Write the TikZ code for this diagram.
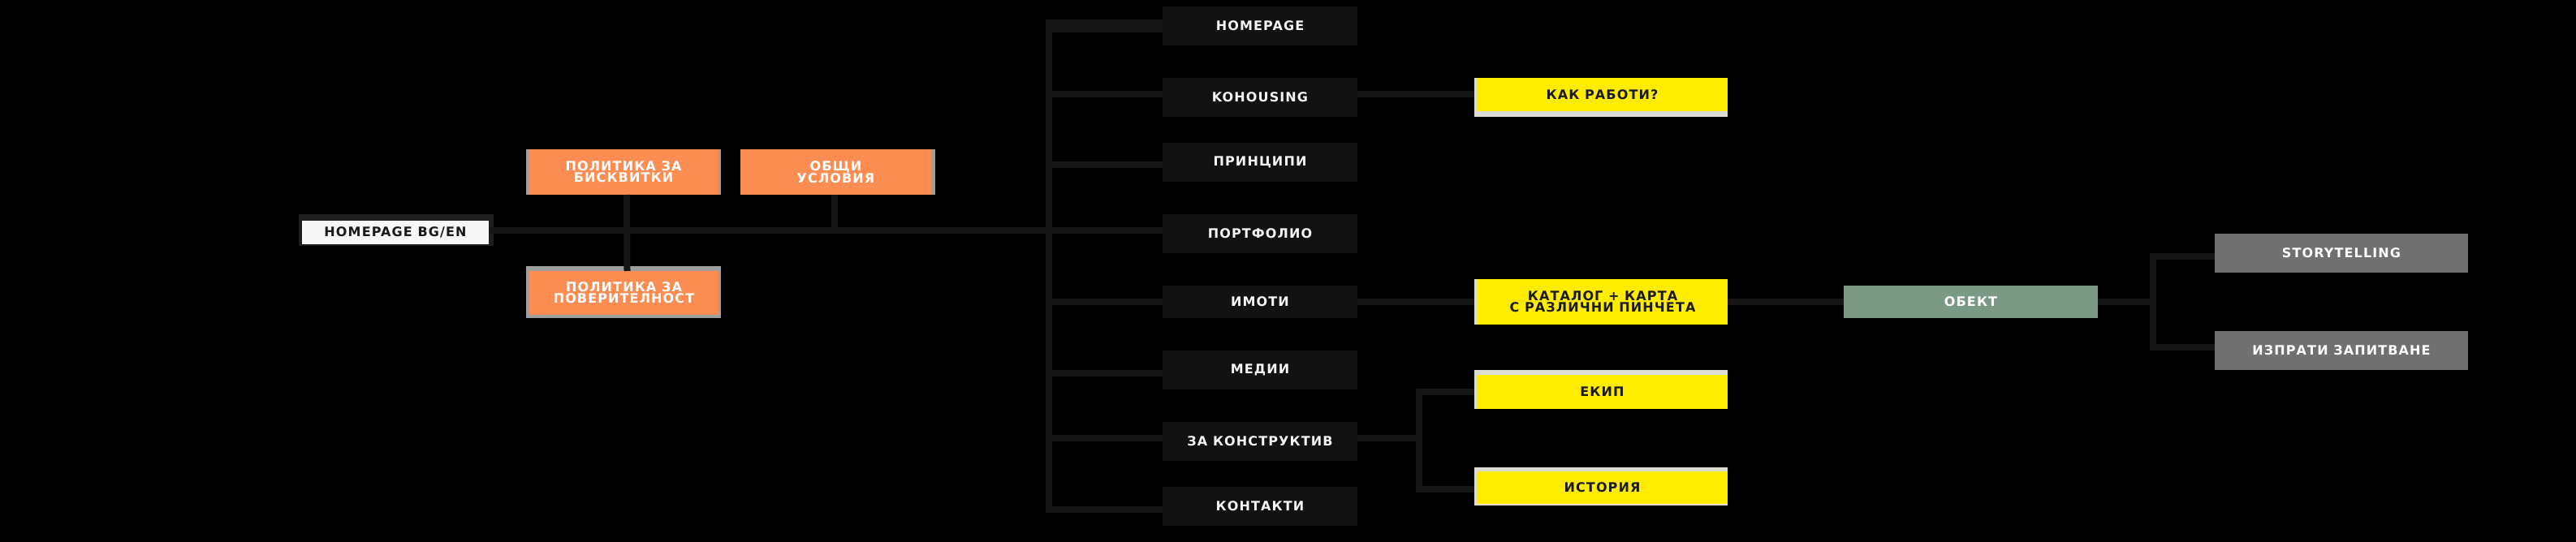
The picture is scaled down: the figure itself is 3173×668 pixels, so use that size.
\documentclass[tikz,border=0pt]{standalone}
\usepackage{fontspec}
\usetikzlibrary{calc}
\newfontfamily\lblfont{DejaVu Sans}[LetterSpace=7]
\definecolor{linec}{HTML}{161616}
\definecolor{boxdark}{HTML}{121212}
\definecolor{orangec}{HTML}{FC8D52}
\definecolor{orangeedge}{HTML}{9E9E9E}
\definecolor{yellowc}{HTML}{FFEC00}
\definecolor{yellowedge}{HTML}{DCDCD4}
\definecolor{greenc}{HTML}{7B9A86}
\definecolor{grayc}{HTML}{707070}
\definecolor{framec}{HTML}{1E1E1E}
\definecolor{whitebox}{HTML}{F7F7F7}
\definecolor{darktext}{HTML}{1A1A1A}
\definecolor{lighttext}{HTML}{F4F4F4}
\tikzset{
  lbl/.style={inner sep=0pt, outer sep=0pt, align=center,
    font=\lblfont\bfseries\fontsize{16}{14.3}\selectfont},
  darkbox/.style={lbl, fill=boxdark, text=lighttext, minimum width=240pt, minimum height=48pt},
  orangebox/.style={lbl, fill=orangec, text=white},
  yellowbox/.style={lbl, fill=yellowc, text=darktext},
  greenbox/.style={lbl, fill=greenc, text=white, minimum width=313pt, minimum height=40pt},
  graybox/.style={lbl, fill=grayc, text=white, minimum width=312pt, minimum height=48pt},
  whiteb/.style={lbl, fill=whitebox, text=darktext, minimum width=230pt, minimum height=29pt},
  conn/.style={draw=linec, line width=8pt},
}
\begin{document}
\begin{tikzpicture}[x=1pt, y=-1pt]
\useasboundingbox (0,0) rectangle (3173,668);
\fill[black] (0,0) rectangle (3173,668);

% edge / frame backgrounds
\fill[framec] (368,264) rectangle (608,303);
\fill[orangeedge] (648,184) rectangle (888,240);
\fill[orangeedge] (912,184) rectangle (1152,240);
\fill[orangeedge] (648,328) rectangle (888,392);
\fill[yellowedge] (1816,96) rectangle (2128,144);
\fill[yellowedge] (1816,344) rectangle (2128,400);
\fill[yellowedge] (1816,456) rectangle (2128,504);
\fill[yellowedge] (1816,576) rectangle (2128,623);

% nodes
\node[whiteb] (hpbg) at (487,286.5) {HOMEPAGE BG/EN};
\node[orangebox, minimum width=234pt, minimum height=56pt] (bisk) at (768,212) {ПОЛИТИКА ЗА\\БИСКВИТКИ};
\node[orangebox, minimum width=235pt, minimum height=56pt] (obshti) at (1029.5,212) {ОБЩИ\\УСЛОВИЯ};
\node[orangebox, minimum width=233pt, minimum height=54pt] (pov) at (768.5,361) {ПОЛИТИКА ЗА\\ПОВЕРИТЕЛНОСТ};

\node[darkbox] (hp) at (1552,32) {HOMEPAGE};
\node[darkbox] (kh) at (1552,120) {KOHOUSING};
\node[darkbox] (pr) at (1552,200) {ПРИНЦИПИ};
\node[darkbox] (pf) at (1552,288) {ПОРТФОЛИО};
\node[darkbox, minimum height=40pt] (im) at (1552,372) {ИМОТИ};
\node[darkbox] (md) at (1552,456) {МЕДИИ};
\node[darkbox] (zk) at (1552,544) {ЗА КОНСТРУКТИВ};
\node[darkbox] (kt) at (1552,624) {КОНТАКТИ};

\node[yellowbox, minimum width=309pt, minimum height=41.5pt] (kak) at (1973.5,116.75) {КАК РАБОТИ?};
\node[yellowbox, minimum width=308pt, minimum height=56pt] (kat) at (1974,372) {КАТАЛОГ + КАРТА\\С РАЗЛИЧНИ ПИНЧЕТА};
\node[yellowbox, minimum width=309pt, minimum height=42pt] (ekip) at (1973.5,483) {ЕКИП};
\node[yellowbox, minimum width=309pt, minimum height=40pt] (ist) at (1973.5,601) {ИСТОРИЯ};

\node[greenbox] (obekt) at (2427.5,372) {ОБЕКТ};
\node[graybox] (story) at (2884,312) {STORYTELLING};
\node[graybox] (izp) at (2884,432) {ИЗПРАТИ ЗАПИТВАНЕ};

% helper coordinates
\coordinate (mainy) at (0,284);
\coordinate (bustop) at (1292,24);
\coordinate (busbot) at (1292,632);
\coordinate (f1) at (1748,540);
\coordinate (f2) at (2652,372);

% connectors
\draw[conn] (hpbg.east |- mainy) -- (pf.west |- mainy);
\draw[conn] ($(bisk.south)+(4,0)$) -- ($(pov.north)+(4,0)$);
\draw[conn] ($(obshti.south)+(-1.5,0)$) -- ($(obshti.south |- mainy)+(-1.5,0)$);

\draw[conn] (bustop) -- (busbot);
\draw[conn, line width=16pt] ($(bustop |- hp.west)+(-4,0)$) -- (hp.west);
\draw[conn] ($(bustop |- kh.west)+(0,-4)$) -- ($(kh.west)+(0,-4)$);
\draw[conn] ($(bustop |- pr.west)+(0,3)$) -- ($(pr.west)+(0,3)$);
\draw[conn] (bustop |- im.west) -- (im.west);
\draw[conn] ($(bustop |- md.west)+(0,4)$) -- ($(md.west)+(0,4)$);
\draw[conn] ($(bustop |- zk.west)+(0,-4)$) -- ($(zk.west)+(0,-4)$);
\draw[conn] ($(bustop |- kt.west)+(-4,4)$) -- ($(kt.west)+(0,4)$);

\draw[conn] ($(kh.east)+(0,-4)$) -- ($(kak.west |- kh.east)+(-3,-4)$);
\draw[conn] (im.east) -- ($(kat.west)+(-4,0)$);
\draw[conn] ($(zk.east)+(0,-4)$) -- (f1);
\draw[conn] ($(ekip.west)+(-3,0)$) -| ($(f1 |- ist.west)+(0,2)$) -- ($(ist.west)+(-3,2)$);

\draw[conn] (kat.east) -- (obekt.west);
\draw[conn] (obekt.east) -- (f2);
\draw[conn] ($(story.west)+(0,4)$) -| ($(f2 |- izp.west)+(0,-4)$) -- ($(izp.west)+(0,-4)$);
\end{tikzpicture}
\end{document}
